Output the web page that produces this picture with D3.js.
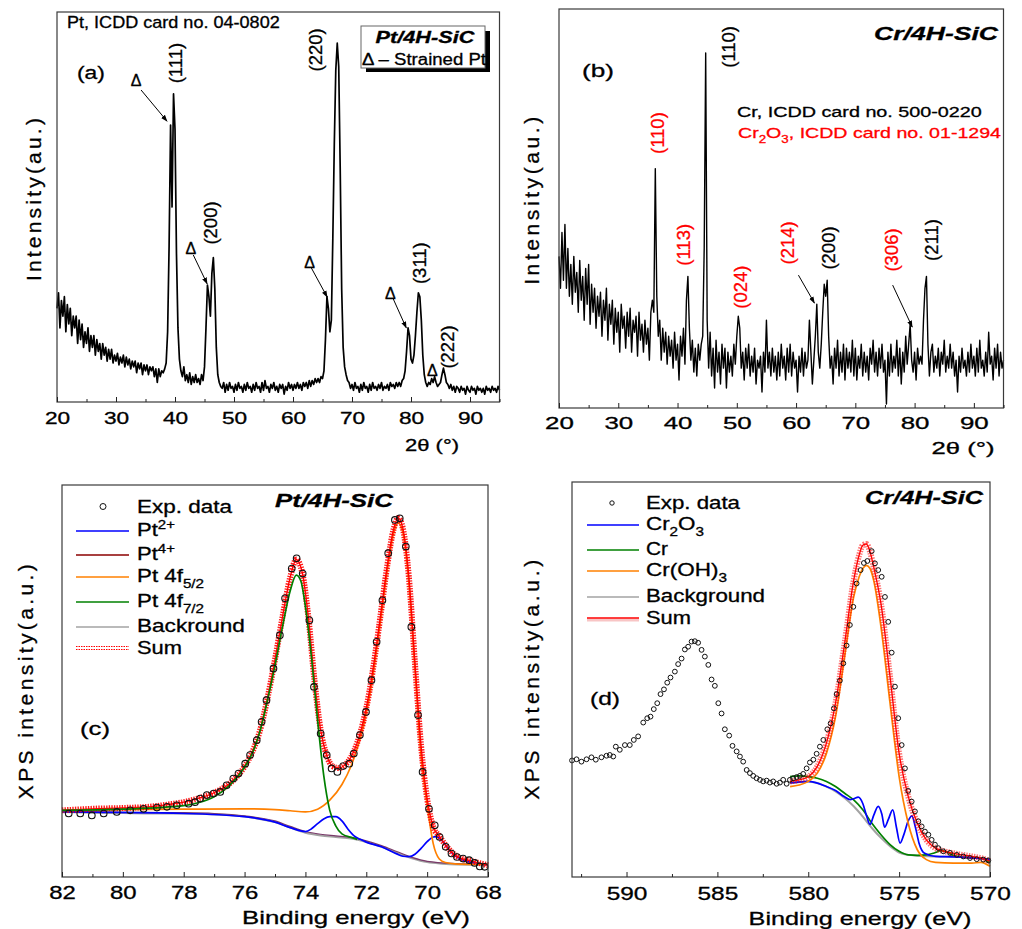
<!DOCTYPE html>
<html><head><meta charset="utf-8">
<script src="https://cdn.jsdelivr.net/npm/d3@7"></script>
<style>html,body{margin:0;padding:0;background:#fff}svg{display:block}</style>
</head><body>
<svg id="fig" width="1022" height="929"></svg>
<script>
// ---------- XRD scans: 2θ from 20° to 95° in 0.25° steps, intensity in a.u. ----------
const scanStart = 20, scanStep = 0.25;

const ptScan = [
  24,28,19,26, 22,27,18,25, 20,24,17,22, 19,22,15,21, 16,20,14,18,
  15,19,13,17, 14,17,12,16, 13,15,11,15, 12,14,10.5,13.5, 11,13.5,10,12,
  10.5,12.5,9.5,11.5, 10,12,9,11.5, 9.5,11,8.5,10.5, 9,10.5,7.5,10, 8.5,10,7,9.5,
  8,9.5,7,9, 8,9,6.5,8.5, 5,8.5,6.5,8, 7.5,8.5,10,18, 40,71,50,79,
  70,38,19,11, 8,6.5,9,5.5, 7,5,7.5,4.5, 6.5,5,7,5, 6,4.5,7,5.5,
  9,19,30,27, 22,33,37,29, 14,7,5,4, 3.5,5,2.5,4.5, 3,5,3.5,4,
  2.5,4.5,3,5, 3.5,4,2.5,4.5, 3,5,3.5,4, 2.5,4.5,3,5, 3.5,4,2.5,5,
  3,5.5,3.5,4, 2.5,4.5,3.5,5, 3,4,2.5,4.5, 3.5,4.5,2,4, 3,5,3.5,4.5,
  3,4.5,3.5,5, 3.5,4.5,3,5, 4,5,3.5,5.5, 4,5.5,4.5,6, 5,6,5,6.5,
  6,8,16,27, 24,18,21,42, 66,85,92,86, 60,29,14,9, 7,5.5,5,3.5,
  4.5,3,5,3.5, 4,2.5,4.5,3, 5,3.5,4,2.5, 4.5,3,5,3.5, 4,3,4.5,3.5,
  5,3,4,3.5, 4.5,3,5,4, 4.5,3.5,5,4, 5,4,5.5,6, 8,13,19,17,
  11,10,12,17, 23,28,27,21, 12,7,5,4, 5,4.5,6,5, 6.5,5,4,4.5,
  5,7,8.7,7, 5,4.5,3.5,4.5, 3,4,2.5,4, 3.5,2.5,4,3, 3.5,2,4,3,
  2.5,4,3,3.5, 2,4,3,3.5, 2.5,3.5,2,4, 3,3.5,2.5,4, 3,3.5,2.5,4,
  3
];

const crScan = [
  38,30,44,32, 46,30,40,28, 36,26,38,29, 34,24,37,27, 33,22,35,26,
  36,21,31,24, 30,20,28,23, 29,18,27,22, 30,17,26,21, 27,16,25,19,
  24,14,26,20, 23,15,24,18, 25,14,22,19, 23,13,24,17, 21,14,22,16,
  20,12,24,27, 24,60,28,18, 22,12,20,14, 19,11,18,13, 17,10,19,12,
  16,7,18,13, 20,11,27,33, 20,12,17,9, 15,8,16,12, 16,18,40,89,
  22,10,19,8, 15,5,17,9, 14,6,16,10, 15,5,14,9, 13,8,16,11,
  18,23,20,10, 14,7,15,10, 16,8,13,9, 15,6,12,10, 13,4,14,9,
  22,10,14,8, 15,9,13,7, 14,8,16,10, 13,7,15,9, 16,8,14,10,
  12,4,13,9, 15,8,14,10, 12,22,14,6, 12,18,26,14, 10,16,24,31,
  28,32,18,10, 13,6,15,10, 17,8,14,9, 16,7,15,10, 14,9,17,8,
  15,7,13,10, 16,8,14,9, 13,7,15,11, 17,9,14,8, 15,10,16,9,
  12,1,14,8, 16,9,13,10, 17,8,15,6, 14,9,18,11, 16,21,12,9,
  14,7,15,11, 13,11,22,30, 33,16,8,14, 16,9,13,10, 15,8,14,11,
  17,9,13,10, 16,10,14,8, 12,4,13,9, 15,10,12,8, 14,9,16,10,
  13,8,15,9, 17,10,12,8, 14,9,19,11, 13,7,15,10, 16,8,14,10,
  12
];

const xrdMajorTicks = [20, 30, 40, 50, 60, 70, 80, 90];
const xrdMinorTicks = [25, 35, 45, 55, 65, 75, 85, 95];

// Pt/4H-SiC peak labels [2θ, intensity, hkl] and strained-Pt markers
const ptPeakLabels = [[40.0, 86.9, "(111)"], [46.0, 45.9, "(200)"], [63.8, 90.3, "(220)"], [81.4, 35.6, "(311)"], [86.2, 14.1, "(222)"]];
const ptStrainedMarks = [[33.4, 82.6], [42.7, 39.5], [62.8, 35.9], [76.5, 27.9], [83.6, 8.2]];
const ptArrows = [[[34.25, 80], [38.65, 72]], [[43.1, 37.7], [45.45, 30.3]], [[63.1, 34.4], [65.8, 26.9]], [[77.0, 26.4], [79.2, 19]]];

// Cr/4H-SiC peak labels [2θ, intensity, hkl, phase]
const crPeakLabels = [[48.6, 90.5, "(110)", "Cr"], [36.6, 68.9, "(110)", "Cr2O3"], [41.0, 40.9, "(113)", "Cr2O3"],
  [50.6, 30.3, "(024)", "Cr2O3"], [58.6, 41.4, "(214)", "Cr2O3"], [65.5, 40.1, "(200)", "Cr"],
  [76.0, 39.6, "(306)", "Cr2O3"], [82.8, 42.1, "(211)", "Cr"]];
const crArrows = [[[60.4, 33.3], [63.1, 26.3]], [[76.3, 30.8], [79.6, 20.3]]];

// ---------- XPS Pt 4f: [binding energy (eV), intensity a.u.] ----------
const ptExp = [[81.78,16.2],[81.40,16.2],[81.02,15.7],[80.63,16.2],[80.20,16.6],[79.76,17.0],[79.32,17.4],[78.88,17.7],
  [78.55,17.9],[78.23,18.3],[77.84,18.7],[77.63,19.1],[77.46,20.0],[77.24,20.9],[77.02,21.3],[76.80,21.7],[76.59,23.4],
  [76.37,25.1],[76.20,26.4],[75.98,28.9],[75.82,31.1],[75.60,34.9],[75.44,39.6],[75.28,45.1],[75.05,53.2],[74.84,61.7],
  [74.67,71.1],[74.45,78.7],[74.29,81.3],[74.09,77.4],[73.87,65.5],[73.72,48.5],[73.50,36.6],[73.30,31.1],[73.14,27.7],
  [72.95,26.8],[72.76,28.3],[72.56,28.9],[72.41,31.5],[72.21,36.2],[72.01,42.1],[71.83,50.2],[71.66,60.0],[71.47,70.6],
  [71.28,82.6],[71.06,91.1],[70.90,91.5],[70.70,84.3],[70.52,63.8],[70.30,41.3],[70.15,26.8],[69.94,17.4],[69.75,13.2],
  [69.59,10.2],[69.39,7.7],[69.20,6.0],[69.02,5.1],[68.82,4.7],[68.62,4.3],[68.44,3.6],[68.27,2.7],[68.11,2.6]];
const ptSum = [[82,17.0],[81.5,17.2],[81,17.4],[80,17.6],[79,18.0],[78.5,18.5],[78,19.1],[77.5,20.1],[77,21.5],[76.5,23.8],
  [76,28.2],[75.75,31.8],[75.5,37.2],[75.25,45.5],[75,55.5],[74.75,66.5],[74.5,76.5],[74.3,81],[74.1,77.5],[73.9,66],
  [73.7,50],[73.5,37.5],[73.3,31],[73.1,28.2],[72.9,27.8],[72.7,28.6],[72.5,30.6],[72.3,34.2],[72.1,39.6],[71.9,47.2],
  [71.7,57.2],[71.5,68.6],[71.3,80],[71.1,88.8],[70.95,91.6],[70.8,89],[70.6,76.5],[70.4,54.5],[70.2,33.5],[70.0,20],
  [69.8,12.8],[69.6,10.4],[69.4,8.2],[69.2,6.4],[69.0,5.2],[68.5,4.0],[68.0,3.0]];
const ptBackground = [[82,16.6],[81,16.4],[80,16.3],[79,16.2],[78,16.2],[77,16.0],[76.5,15.8],[76,15.4],[75.5,14.8],[75,14.0],
  [74.5,12.6],[74,11.3],[73.5,10.6],[73,10.2],[72.5,9.8],[72,8.9],[71.5,7.7],[71,6.2],[70.5,4.8],[70,3.8],[69.5,3.4],[69,3.2],[68,3.1]];
const ptFour = [[82,16.8],[80,16.5],[78,16.4],[77,16.2],[76,15.6],[75,14.3],[74.5,12.9],[74,11.6],[73.5,10.9],[73,10.5],
  [72.5,10.1],[72,9.2],[71.5,8.0],[71,6.5],[70.5,5.0],[70,4.0],[69,3.4],[68,3.2]];
const ptTwo = [[82,16.6],[78,16.2],[76,15.4],[75,14.0],[74.5,12.6],[74.0,11.6],[73.8,12.3],[73.6,13.6],[73.4,14.8],[73.2,15.4],
  [73.0,15.4],[72.8,14.3],[72.6,12.2],[72.4,10.5],[72.2,9.6],[72,8.9],[71.5,7.7],[71,5.9],[70.8,5.3],[70.6,5.2],[70.4,5.8],
  [70.2,7.3],[70.0,9.0],[69.8,10.2],[69.7,10.3],[69.5,9.2],[69.3,7.2],[69.1,5.5],[68.8,4.3],[68.5,3.6],[68,3.1]];
const pt52 = [[82,17.0],[80,17.2],[78,17.3],[76,17.4],[75,17.2],[74.5,16.9],[74,16.6],[73.6,17.3],[73.2,19.6],[72.8,23.6],
  [72.5,28.3],[72.3,32.8],[72.1,38.3],[71.9,45.8],[71.7,55.8],[71.5,67.3],[71.3,78.8],[71.1,87.8],[70.95,90.3],[70.8,88],
  [70.6,75],[70.4,53],[70.2,31],[70.0,18.5],[69.8,8.5],[69.6,4.6],[69.4,3.7],[69.0,3.3],[68.0,3.2]];
const pt72 = [[82,17.0],[80,17.3],[78,18.2],[77.5,19.0],[77,20.5],[76.5,23.3],[76,28],[75.75,31.5],[75.5,37],[75.25,45],
  [75,54],[74.75,64],[74.5,73],[74.3,77],[74.15,75.5],[74.0,69],[73.8,56],[73.6,40],[73.4,26],[73.2,17],[73.0,13],
  [72.8,11],[72.5,10.1],[72.3,9.6]];
const ptTicks = [82, 80, 78, 76, 74, 72, 70, 68];
const ptMinorTicks = [81, 79, 77, 75, 73, 71, 69];

// ---------- XPS Cr 2p: [binding energy (eV), intensity a.u.] ----------
const crExp = [[593.0,29.5],[592.75,29.8],[592.48,29.2],[592.20,29.8],[591.93,30.3],[591.69,29.7],[591.38,30.3],[591.10,30.7],
  [590.92,30.9],[590.73,30.5],[590.59,33.0],[590.37,32.2],[590.09,33.4],[589.82,33.4],[589.60,34.7],[589.36,35.6],
  [589.08,39.1],[588.86,40.2],[588.68,40.6],[588.50,42.5],[588.31,44.0],[588.13,46.3],[587.94,47.5],[587.76,49.2],
  [587.58,50.5],[587.34,52.0],[587.16,53.9],[586.97,55.3],[586.79,57.6],[586.61,58.3],[586.42,59.6],[586.24,59.7],
  [586.06,59.3],[585.87,57.5],[585.69,55.8],[585.50,53.7],[585.32,50.0],[585.14,48.4],[584.95,44.0],[584.77,41.4],
  [584.59,37.4],[584.35,35.8],[584.17,33.2],[583.94,31.8],[583.76,30.5],[583.58,29.2],[583.39,27.1],[583.21,26.3],
  [583.03,25.6],[582.84,25.0],[582.66,24.6],[582.48,24.2],[582.29,24.4],[582.11,23.9],[581.93,24.2],[581.74,23.6],
  [581.56,23.9],[581.38,24.6],[581.19,23.6],[581.01,24.6],[580.83,25.0],[580.64,25.3],[580.46,25.6],[580.28,26.1],
  [580.09,27.5],[579.91,29.0],[579.72,29.7],[579.54,31.2],[579.36,33.0],[579.17,34.7],[578.95,37.4],[578.77,38.9],
  [578.59,42.7],[578.44,46.3],[578.26,49.7],[578.07,54.1],[577.89,58.6],[577.71,63.8],[577.52,68.4],[577.34,74.3],
  [577.12,77.7],[576.94,79.5],[576.75,80.0],[576.51,82.5],[576.33,79.4],[576.15,77.7],[575.96,76.0],[575.78,70.9],
  [575.60,64.6],[575.41,56.8],[575.23,48.2],[575.05,40.2],[574.86,33.4],[574.68,27.5],[574.50,21.8],[574.31,19.1],
  [574.13,16.6],[573.94,14.1],[573.76,12.8],[573.58,11.5],[573.39,10.7],[573.21,9.4],[573.03,8.2],[572.84,7.3],
  [572.57,6.5],[572.20,6.1],[571.83,5.6],[571.47,5.2],[571.10,4.8],[570.73,4.5],[570.37,4.4],[570.09,4.2]];
const crSum = [[581,24.2],[580.5,24.6],[580,25.4],[579.5,28],[579,33.9],[578.5,44],[578,59.1],[577.5,75.1],[577.2,81.5],
  [577.0,84],[576.8,84.3],[576.6,82.3],[576.4,78.5],[576.0,69.2],[575.5,50.7],[575.0,31.3],[574.5,20.4],[574.0,13.6],
  [573.5,9.4],[573.0,7.3],[572.5,6.5],[572,6],[571,5.2],[570.5,4.8],[570,4]];
const crBackground = [[581,23.8],[580,24.2],[579.5,23.8],[579,22.9],[578.5,21.7],[578,20],[577.5,17.9],[577,15.3],[576.5,12.4],
  [576,9.9],[575.5,7.8],[575,6.2],[574.5,5.6],[574,5.4],[573,5.2],[572,5.1],[571,4.9],[570,4.5]];
const crMetal = [[581,25.4],[580.5,25.6],[580,25.4],[579.5,25],[579,24.2],[578.5,22.9],[578,21.2],[577.5,19.5],[577,17],
  [576.5,13.6],[576,10.7],[575.5,8.2],[575,6.5],[574.5,5.6],[574,5.5],[573.5,5.6],[573,6.2],[572.7,6.7],[572.3,6.2],
  [572,5.4],[571,4.8],[570.5,4.8],[570,3.5]];
const crOxide = [[581,23.8],[580,24.2],[579,22.9],[578.5,21.9],[578.0,20.3],[577.7,19.6],[577.5,19.8],[577.25,20.2],[577.0,18.6],
  [576.8,15.6],[576.6,13.3],[576.4,15.6],[576.15,17.9],[575.95,15.9],[575.8,12.6],[575.6,14.5],[575.35,17.0],[575.15,12.6],
  [574.95,8.6],[574.75,10.6],[574.5,14.2],[574.3,15.5],[574.1,12.5],[573.9,8.5],[573.6,6.0],[573,5.2],[572,5.1],[570,4.5]];
const crHydroxide = [[581,22.9],[580.5,23.3],[580,24.2],[579.5,26.3],[579,31.3],[578.5,40.6],[578,55.8],[577.5,70.9],
  [577.2,76],[577.0,78.1],[576.8,78.9],[576.6,78.1],[576.4,75.1],[576.0,63.4],[575.5,44],[575.0,25.4],[574.5,13.6],
  [574.0,6.9],[573.5,4.4],[573,3.7],[572,3.5],[571,3.5],[570.5,3.7],[570,2.7]];
const crTicks = [590, 585, 580, 575, 570];
const crMinorTicks = [592.5, 587.5, 582.5, 577.5, 572.5];

// ---------- drawing ----------
const FONT = 'Arial, "Liberation Sans", Helvetica, sans-serif';
const RED = '#ff0000', BLUE = '#0000ff', GREEN = '#008000', ORANGE = '#ff8000', DARKRED = '#8b0000', GRAY = '#a3a3a3';

const svg = d3.select('#fig');
svg.append('rect').attr('width', 1022).attr('height', 929).attr('fill', '#fff');
svg.append('defs').append('marker')
  .attr('id', 'arrowHead').attr('viewBox', '0 0 10 10').attr('refX', 9).attr('refY', 5)
  .attr('markerWidth', 7).attr('markerHeight', 7).attr('orient', 'auto')
  .append('path').attr('d', 'M0,1.5L10,5L0,8.5Z').attr('fill', '#000');

// text with optional sub/superscripts; width fitted by horizontal scaling or letter spacing
function label(g, o) {
  const size = o.size;
  const fill = o.fill || '#000';
  const t = g.append('text')
    .attr('font-family', FONT).attr('font-size', size)
    .attr('text-anchor', o.anchor || 'start')
    .attr('fill', fill).attr('stroke', fill).attr('stroke-width', 0.3)
    .attr('y', 0.36 * size);
  if (o.weight) t.attr('font-weight', o.weight);
  if (o.italic) t.attr('font-style', 'italic');
  let shift = 0;
  (o.parts || [[o.text]]).forEach(([s, k]) => {
    const off = k === 'sub' ? 0.32 * size : k === 'sup' ? -0.42 * size : 0;
    const ts = t.append('tspan').text(s);
    if (off - shift) ts.attr('dy', off - shift);
    if (k) ts.attr('font-size', 0.68 * size);
    shift = off;
  });
  let sx = 1;
  const nat = t.node().getComputedTextLength();
  if (o.w && o.spread) {
    const n = t.text().length;
    t.attr('letter-spacing', (o.w - nat) / (n - 1));
  } else if (o.w) sx = o.w / nat;
  t.attr('transform', `translate(${o.x},${o.y}) rotate(${o.rot || 0}) scale(${sx},1)`);
  return t;
}

function bottomAxis(g, x, y0, major, minor, o) {
  const ga = g.append('g').attr('transform', `translate(0,${y0})`)
    .call(d3.axisBottom(x).tickValues(major).tickSize(-5).tickSizeOuter(0).tickFormat(d3.format('d')));
  ga.select('.domain').remove();
  ga.selectAll('line').attr('stroke', '#222');
  ga.selectAll('text')
    .attr('font-family', FONT).attr('font-size', o.size).attr('fill', '#000')
    .attr('stroke', '#000').attr('stroke-width', 0.3)
    .attr('y', o.dy).attr('dy', '0.36em')
    .each(function () {
      const s = o.cw * this.textContent.length / this.getComputedTextLength();
      d3.select(this).attr('transform', `scale(${s},1)`);
    });
  const gm = g.append('g').attr('transform', `translate(0,${y0})`)
    .call(d3.axisBottom(x).tickValues(minor).tickSize(-3).tickSizeOuter(0).tickFormat(''));
  gm.select('.domain').remove();
  gm.selectAll('line').attr('stroke', '#222');
}

function frame(g, b) {
  g.append('rect').attr('x', b.l).attr('y', b.t).attr('width', b.r - b.l).attr('height', b.b - b.t)
    .attr('fill', 'none').attr('stroke', '#3a3a3a').attr('stroke-width', 1.2);
}

function arrows(g, x, y, list) {
  g.selectAll(null).data(list).join('line')
    .attr('x1', d => x(d[0][0])).attr('y1', d => y(d[0][1]))
    .attr('x2', d => x(d[1][0])).attr('y2', d => y(d[1][1]))
    .attr('stroke', '#000').attr('stroke-width', 1).attr('marker-end', 'url(#arrowHead)');
}

// ===== (a) Pt/4H-SiC XRD =====
{
  const b = {l: 57, r: 499.5, t: 12, b: 402};
  const g = svg.append('g');
  const x = d3.scaleLinear().domain([20, 95]).range([b.l, b.r]);
  const y = d3.scaleLinear().domain([0, 100]).range([b.b, b.t]);
  g.append('path').datum(ptScan)
    .attr('d', d3.line().x((d, i) => x(scanStart + i * scanStep)).y(d => y(d)))
    .attr('fill', 'none').attr('stroke', '#000').attr('stroke-width', 1.7).attr('stroke-linejoin', 'round');
  frame(g, b);
  bottomAxis(g, x, b.b, xrdMajorTicks, xrdMinorTicks, {size: 16, dy: 16, cw: 12.6});
  label(g, {x: 432, y: 445, text: '2θ (°)', size: 16, anchor: 'middle', w: 54});
  label(g, {x: 33, y: 198, text: 'Intensity(au.)', size: 21, anchor: 'middle', rot: -90, w: 163, spread: true});
  label(g, {x: 67, y: 22, text: 'Pt, ICDD card no. 04-0802', size: 16, w: 213});
  label(g, {x: 77, y: 72, text: '(a)', size: 19, w: 28});
  ptPeakLabels.forEach(([px, pv, t]) => label(g, {x: x(px), y: y(pv), text: t, size: 18.5, anchor: 'middle', rot: -90}));
  ptStrainedMarks.forEach(([px, pv]) => label(g, {x: x(px), y: y(pv), text: 'Δ', size: 16, anchor: 'middle'}));
  arrows(g, x, y, ptArrows);
  // sample legend box with drop shadow
  g.append('rect').attr('x', 366).attr('y', 31).attr('width', 124).attr('height', 41).attr('fill', '#000');
  g.append('rect').attr('x', 361).attr('y', 26).attr('width', 124).attr('height', 42)
    .attr('fill', '#fff').attr('stroke', '#666').attr('stroke-width', 1);
  label(g, {x: 425, y: 37, text: 'Pt/4H-SiC', size: 16, anchor: 'middle', weight: 'bold', italic: true, w: 99});
  label(g, {x: 424, y: 59, text: 'Δ – Strained Pt', size: 16, anchor: 'middle', w: 124});
}

// ===== (b) Cr/4H-SiC XRD =====
{
  const b = {l: 559, r: 1003.5, t: 9, b: 408};
  const g = svg.append('g');
  const x = d3.scaleLinear().domain([20, 95]).range([b.l, b.r]);
  const y = d3.scaleLinear().domain([0, 100]).range([b.b, b.t]);
  g.append('path').datum(crScan)
    .attr('d', d3.line().x((d, i) => x(scanStart + i * scanStep)).y(d => y(d)))
    .attr('fill', 'none').attr('stroke', '#000').attr('stroke-width', 1.4).attr('stroke-linejoin', 'round');
  frame(g, b);
  bottomAxis(g, x, b.b, xrdMajorTicks, xrdMinorTicks, {size: 16.5, dy: 15, cw: 14.4});
  label(g, {x: 963, y: 448, text: '2θ (°)', size: 17, anchor: 'middle', w: 63});
  label(g, {x: 531, y: 199, text: 'Intensity(au.)', size: 21, anchor: 'middle', rot: -90, w: 168, spread: true});
  label(g, {x: 998, y: 33, text: 'Cr/4H-SiC', size: 18.5, anchor: 'end', weight: 'bold', italic: true, w: 124});
  label(g, {x: 582, y: 70, text: '(b)', size: 19, w: 32});
  label(g, {x: 737, y: 112, text: 'Cr, ICDD card no. 500-0220', size: 15, w: 245});
  label(g, {x: 738, y: 133, parts: [['Cr'], ['2', 'sub'], ['O'], ['3', 'sub'], [', ICDD card no. 01-1294']], size: 15, w: 263, fill: RED});
  crPeakLabels.forEach(([px, pv, t, ph]) => label(g, {x: x(px), y: y(pv), text: t, size: 18.5, anchor: 'middle', rot: -90, fill: ph === 'Cr' ? '#000' : RED}));
  arrows(g, x, y, crArrows);
}

// XPS helpers
function xpsLine(g, x, y, data, color, width) {
  return g.append('path').datum(data)
    .attr('d', d3.line().x(d => x(d[0])).y(d => y(d[1])).curve(d3.curveMonotoneX))
    .attr('fill', 'none').attr('stroke', color).attr('stroke-width', width || 1.7);
}
function sumLine(g, x, y, data, op) {
  xpsLine(g, x, y, data, RED, 6).attr('stroke-dasharray', '1.4 1.2').attr('opacity', op);
  xpsLine(g, x, y, data, RED, 1.3);
}

// ===== (c) Pt 4f XPS =====
{
  const b = {l: 62, r: 488, t: 485, b: 877};
  const g = svg.append('g');
  const x = d3.scaleLinear().domain([82, 68]).range([b.l, b.r]);
  const y = d3.scaleLinear().domain([0, 100]).range([b.b, b.t]);
  xpsLine(g, x, y, ptBackground, GRAY, 2);
  xpsLine(g, x, y, ptFour, '#7a3a6a', 1.2);
  xpsLine(g, x, y, ptTwo, BLUE);
  xpsLine(g, x, y, pt52, ORANGE);
  sumLine(g, x, y, ptSum, 0.9);
  xpsLine(g, x, y, pt72, GREEN);
  g.selectAll(null).data(ptExp).join('circle')
    .attr('cx', d => x(d[0])).attr('cy', d => y(d[1])).attr('r', 3.3)
    .attr('fill', 'none').attr('stroke', '#111').attr('stroke-width', 1.1);
  frame(g, b);
  bottomAxis(g, x, b.b, ptTicks, ptMinorTicks, {size: 18.5, dy: 15, cw: 13.3});
  label(g, {x: 356, y: 917, text: 'Binding energy (eV)', size: 18.5, anchor: 'middle', w: 228});
  label(g, {x: 25, y: 680, text: 'XPS intensity(a.u.)', size: 21, anchor: 'middle', rot: -90, w: 235, spread: true});
  label(g, {x: 334, y: 501, text: 'Pt/4H-SiC', size: 18, anchor: 'middle', weight: 'bold', italic: true, w: 118});
  label(g, {x: 80, y: 728, text: '(c)', size: 19, w: 30});
  // legend
  const lg = g.append('g');
  lg.append('circle').attr('cx', 103).attr('cy', 506.5).attr('r', 3).attr('fill', 'none').attr('stroke', '#111');
  const rows = [
    {y: 531, c: BLUE, parts: [['Pt'], ['2+', 'sup']], w: 38},
    {y: 555, c: DARKRED, parts: [['Pt'], ['4+', 'sup']], w: 38},
    {y: 577, c: ORANGE, parts: [['Pt 4f'], ['5/2', 'sub']], w: 67},
    {y: 602, c: GREEN, parts: [['Pt 4f'], ['7/2', 'sub']], w: 67},
    {y: 627, c: GRAY, parts: [['Backround']], w: 108}
  ];
  label(lg, {x: 137, y: 506.5, text: 'Exp. data', size: 17.5, w: 95});
  rows.forEach(r => {
    lg.append('line').attr('x1', 76).attr('x2', 129).attr('y1', r.y).attr('y2', r.y).attr('stroke', r.c).attr('stroke-width', 1.6);
    label(lg, {x: 137, y: r.y - 1, parts: r.parts, size: 17.5, w: r.w});
  });
  [646.5, 649.5].forEach(yy => lg.append('line').attr('x1', 76).attr('x2', 129).attr('y1', yy).attr('y2', yy)
    .attr('stroke', RED).attr('stroke-width', 1).attr('stroke-dasharray', '1.5 1'));
  label(lg, {x: 137, y: 648, text: 'Sum', size: 17.5, w: 45});
}

// ===== (d) Cr 2p XPS =====
{
  const b = {l: 572, r: 990, t: 482, b: 877};
  const g = svg.append('g');
  const x = d3.scaleLinear().domain([593, 570]).range([b.l, b.r]);
  const y = d3.scaleLinear().domain([0, 100]).range([b.b, b.t]);
  xpsLine(g, x, y, crBackground, GRAY, 2);
  xpsLine(g, x, y, crMetal, GREEN);
  xpsLine(g, x, y, crOxide, BLUE);
  xpsLine(g, x, y, crHydroxide, ORANGE);
  sumLine(g, x, y, crSum, 0.55);
  g.selectAll(null).data(crExp).join('circle')
    .attr('cx', d => x(d[0])).attr('cy', d => y(d[1])).attr('r', 2.4)
    .attr('fill', 'none').attr('stroke', '#111').attr('stroke-width', 1);
  frame(g, b);
  bottomAxis(g, x, b.b, crTicks, crMinorTicks, {size: 19, dy: 16, cw: 13.6});
  label(g, {x: 860, y: 918, text: 'Binding energy (eV)', size: 18.5, anchor: 'middle', w: 223});
  label(g, {x: 531, y: 678, text: 'XPS intensity(a.u.)', size: 21, anchor: 'middle', rot: -90, w: 240, spread: true});
  label(g, {x: 983, y: 498, text: 'Cr/4H-SiC', size: 18, anchor: 'end', weight: 'bold', italic: true, w: 118});
  label(g, {x: 590, y: 698, text: '(d)', size: 19, w: 30});
  const lg = g.append('g');
  lg.append('circle').attr('cx', 612).attr('cy', 503).attr('r', 2.2).attr('fill', 'none').attr('stroke', '#111');
  label(lg, {x: 646, y: 503, text: 'Exp. data', size: 17.5, w: 94});
  const rows = [
    {y: 525, c: BLUE, parts: [['Cr'], ['2', 'sub'], ['O'], ['3', 'sub']], w: 58},
    {y: 550, c: GREEN, parts: [['Cr']], w: 22},
    {y: 571, c: ORANGE, parts: [['Cr(OH)'], ['3', 'sub']], w: 81},
    {y: 597, c: GRAY, parts: [['Background']], w: 119}
  ];
  rows.forEach(r => {
    lg.append('line').attr('x1', 587).attr('x2', 639).attr('y1', r.y).attr('y2', r.y).attr('stroke', r.c).attr('stroke-width', 1.6);
    label(lg, {x: 646, y: r.y - 1, parts: r.parts, size: 17.5, w: r.w});
  });
  lg.append('line').attr('x1', 587).attr('x2', 639).attr('y1', 620).attr('y2', 620).attr('stroke', '#f4a0a0').attr('stroke-width', 3).attr('opacity', 0.6);
  lg.append('line').attr('x1', 587).attr('x2', 639).attr('y1', 618).attr('y2', 618).attr('stroke', RED).attr('stroke-width', 1.6);
  label(lg, {x: 646, y: 618, text: 'Sum', size: 17.5, w: 45});
}
</script>
</body></html>
